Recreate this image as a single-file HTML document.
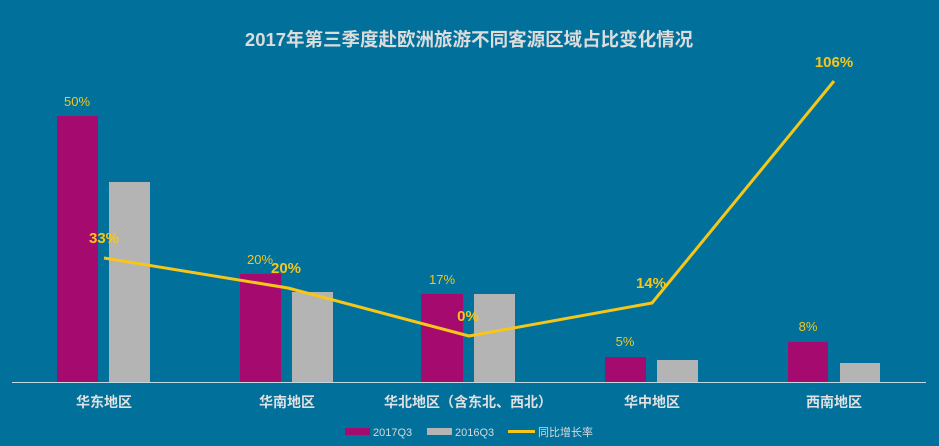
<!DOCTYPE html><html><head><meta charset="utf-8"><style>body{margin:0;background:#01719c}</style></head><body>
<svg width="939" height="446" xmlns="http://www.w3.org/2000/svg" style="display:block;font-family:'Liberation Sans','Noto Sans CJK SC',sans-serif">
<rect width="939" height="446" fill="#01719c"/>
<text x="469" y="46" text-anchor="middle" font-size="18.5" font-weight="bold" fill="#dcdcdc">2017年第三季度赴欧洲旅游不同客源区域占比变化情况</text>
<g fill="#a50a6e">
<rect x="57" y="116" width="41" height="266"/><rect x="240" y="274" width="41" height="108"/><rect x="421" y="294" width="42" height="88"/><rect x="605" y="357" width="41" height="25"/><rect x="788" y="342" width="40" height="40"/></g>
<g fill="#b4b4b4">
<rect x="109" y="182" width="41" height="200"/><rect x="292" y="292" width="41" height="90"/><rect x="474" y="294" width="41" height="88"/><rect x="657" y="360" width="41" height="22"/><rect x="840" y="363" width="40" height="19"/></g>
<line x1="12" y1="382.5" x2="926" y2="382.5" stroke="#bfd8e2" stroke-width="1"/>
<polyline points="104,258 288,288 469,336 652,303 834,81" fill="none" stroke="#f6c619" stroke-width="3" stroke-linejoin="round"/>
<g fill="#f6c619" font-size="13" text-anchor="middle">
<text x="77" y="106">50%</text><text x="260" y="264">20%</text><text x="442" y="284">17%</text><text x="625" y="346">5%</text><text x="808" y="331">8%</text></g>
<g fill="#f6c619" font-size="15" font-weight="bold" text-anchor="middle">
<text x="104" y="243">33%</text><text x="286" y="273">20%</text><text x="468" y="321">0%</text><text x="651" y="288">14%</text><text x="834" y="67">106%</text></g>
<g fill="#e0e0e0" font-size="14" font-weight="bold" text-anchor="middle">
<text x="104" y="407">华东地区</text><text x="287" y="407">华南地区</text><text x="468" y="407">华北地区（含东北、西北）</text><text x="652" y="407">华中地区</text><text x="834" y="407">西南地区</text></g>
<g font-size="11" fill="#d8d8d8">
<rect x="345" y="428" width="25" height="7" fill="#a50a6e"/><text x="373" y="436">2017Q3</text>
<rect x="427" y="428" width="25" height="7" fill="#b4b4b4"/><text x="455" y="436">2016Q3</text>
<line x1="508" y1="431.5" x2="535" y2="431.5" stroke="#f6c619" stroke-width="3"/><text x="538" y="436">同比增长率</text></g>
</svg></body></html>
